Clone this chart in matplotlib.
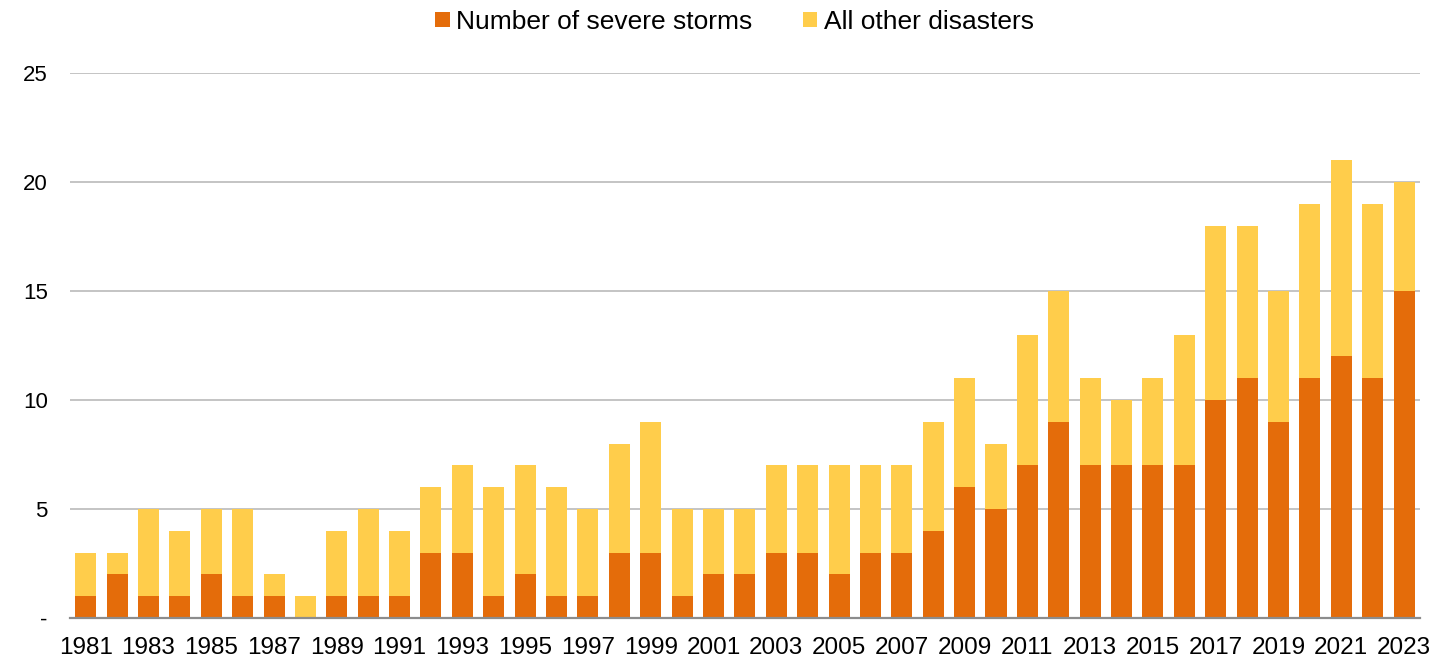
import matplotlib
matplotlib.use("Agg")
import matplotlib.pyplot as plt
import numpy as np

years = list(range(1981, 2024))
severe_storms = [1, 2, 1, 1, 2, 1, 1, 0, 1, 1, 1, 3, 3, 1, 2, 1, 1, 3, 3, 1,
                 2, 2, 3, 3, 2, 3, 3, 4, 6, 5, 7, 9, 7, 7, 7, 7, 10, 11, 9, 11,
                 12, 11, 15]
total_disasters = [3, 3, 5, 4, 5, 5, 2, 1, 4, 5, 4, 6, 7, 6, 7, 6, 5, 8, 9, 5,
                   5, 5, 7, 7, 7, 7, 7, 9, 11, 8, 13, 15, 11, 10, 11, 13, 18, 18, 15, 19,
                   21, 19, 20]
other_disasters = [t - s for t, s in zip(total_disasters, severe_storms)]
y_ticks = [0, 5, 10, 15, 20, 25]
y_tick_labels = ["-", "5", "10", "15", "20", "25"]

plt.rcParams["font.family"] = ["Liberation Sans", "DejaVu Sans"]

fig = plt.figure(figsize=(14.37, 6.61), dpi=100)
ax = fig.add_axes([0.0487, 0.065, 0.9393, 0.8246])

x = np.arange(len(years))
orange = "#E46C0A"
yellow = "#FFCD4B"
ax.bar(x, severe_storms, width=0.67, color=orange, label="Number of severe storms", zorder=3)
ax.bar(x, other_disasters, width=0.67, bottom=severe_storms, color=yellow,
       label="All other disasters", zorder=3)

ax.set_xlim(-0.5, len(years) - 0.5)
ax.set_ylim(0, 25)
ax.set_yticks(y_ticks)
ax.set_yticklabels(y_tick_labels)
ax.set_xticks(x[::2])
ax.set_xticklabels([str(y) for y in years[::2]])

for yv in y_ticks[1:]:
    ax.axhline(yv, color="#C4C4C4", linewidth=1.4, zorder=1)

for side in ["top", "right", "left"]:
    ax.spines[side].set_visible(False)
ax.spines["bottom"].set_color("#8C8C8C")
ax.spines["bottom"].set_linewidth(1.6)
ax.spines["bottom"].set_zorder(4)

ax.tick_params(axis="both", length=0, colors="#000000")
ax.tick_params(axis="x", pad=14, labelsize=17.5)
ax.tick_params(axis="y", pad=16, labelsize=16)
for lbl in ax.get_yticklabels():
    lbl.set_horizontalalignment("right")

fig.legend(loc="upper center", bbox_to_anchor=(0.511, 1.021), ncol=2, frameon=False,
           fontsize=19, handlelength=0.55, handleheight=0.55, handletextpad=0.25,
           columnspacing=1.9)

fig.savefig("out.png", dpi=100)
